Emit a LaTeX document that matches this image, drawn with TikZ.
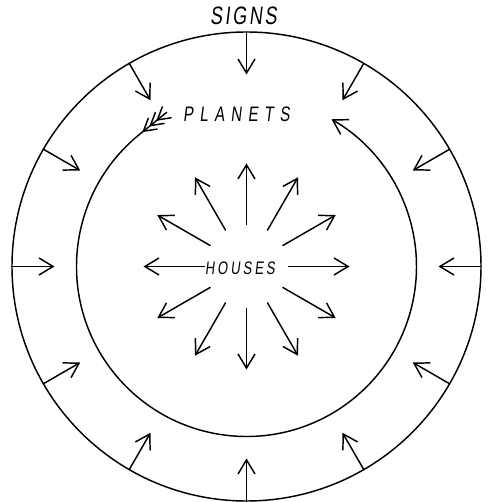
\documentclass[tikz,border=0pt]{standalone}
\usepackage{fontspec}
\usepackage{tikz}
\usetikzlibrary{arrows.meta}
\newfontfamily\handfont[FakeSlant=0.12, FakeStretch=0.72]{Liberation Sans}

\begin{document}
\begin{tikzpicture}[x=0.3mm, y=0.3mm,
        % Define styles for the rings, the rays and the lettering
        ring/.style={line width=1.25pt},
        ray/.style={line width=1.25pt, line cap=round, -{Straight Barb[length=12pt, width=14.5pt]}},
        lettering/.style={inner sep=0pt}]

        \useasboundingbox (-246.5,-235.5) rectangle (240.5,266.5);

        % 1. Define the centre and the radii of the two rings
        \coordinate (O) at (0, 0); % The common centre
        \def\Rsigns{234.5}
        \def\Rplanets{170}

        % 2. Draw the outer ring of the signs
        \draw[ring] (O) circle[radius=\Rsigns];

        % 3. The signs act inwards from the outer ring
        \foreach \a in {0,30,...,330}
            \draw[ray] (\a:\Rsigns) -- (\a:192);

        % 4. The planets: an open ring with a fletched tail and a head
        \coordinate (Pstart) at (129:\Rplanets);
        \coordinate (Ptail) at ([shift={(39:35)}]Pstart); % tail runs on along the tangent
        \draw[ring, line cap=round, -{Straight Barb[length=12pt, width=14.5pt]}]
            (Ptail) -- (Pstart) arc[start angle=129, end angle=420, radius=\Rplanets];

        % Feathers on the tail
        \begin{scope}[shift={(Pstart)}, rotate=39]
            \foreach \s in {5,14,23}
                \draw[ring, line cap=round] (\s,0) -- ++(12,7) (\s,0) -- ++(12,-7);
        \end{scope}

        % 5. The houses radiate outwards from the centre
        \foreach \a in {0,30,...,330}
            \draw[ray] (\a:42) -- (\a:103);

        % 6. Label the three layers
        \node[lettering, font={\handfont\fontsize{21.5pt}{24pt}\selectfont\addfontfeature{LetterSpace=10}}]
            (signs) at (-3, 250.5) {SIGNS};
        \node[lettering, font={\handfont\fontsize{17.9pt}{20pt}\selectfont\addfontfeature{LetterSpace=30}}]
            (planets) at (-10, 152) {PLANETS};
        \node[lettering, font={\handfont\fontsize{15.5pt}{18pt}\selectfont\addfontfeature{LetterSpace=16}}]
            (houses) at (-6.5, -1.5) {HOUSES};

\end{tikzpicture}
\end{document}
